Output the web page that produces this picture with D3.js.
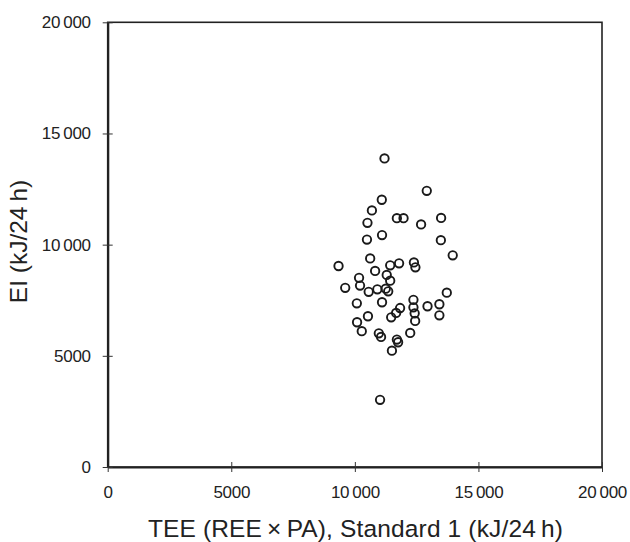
<!DOCTYPE html>
<html><head><meta charset="utf-8">
<script src="https://cdn.jsdelivr.net/npm/d3@7"></script>
<style>body{margin:0;background:#fff}svg{display:block}text{font-family:"Liberation Sans",Arial,sans-serif;fill:#222}</style>
</head><body><svg id="c" width="630" height="542"></svg>
<script>
// TEE (REE×PA), Standard 1, kJ/24 h (thousands)
const teeValues = [11.20,12.91,11.09,10.69,11.70,11.97,10.51,12.68,13.49,10.49,11.10,13.48,13.96,10.62,9.34,11.43,11.79,12.39,12.45,10.82,10.17,11.29,11.43,9.61,10.21,10.56,10.91,11.25,11.35,12.37,13.72,10.08,11.10,11.83,11.67,12.37,12.94,13.42,12.42,13.42,10.53,11.47,12.44,10.09,10.28,10.97,11.06,12.24,11.70,11.75,11.50,11.02];
// EI, kJ/24 h (thousands)
const eiValues = [13.88,12.42,12.02,11.54,11.19,11.19,10.98,10.91,11.20,10.23,10.43,10.20,9.52,9.38,9.04,9.07,9.16,9.20,8.98,8.82,8.51,8.64,8.38,8.06,8.16,7.88,7.99,8.02,7.90,7.52,7.84,7.36,7.41,7.15,6.93,7.18,7.23,7.32,6.91,6.82,6.78,6.73,6.57,6.51,6.11,6.01,5.85,6.03,5.73,5.61,5.23,3.02];
const xTicks = [0, 5000, 10000, 15000, 20000];
const yTicks = [0, 5000, 10000, 15000, 20000];
const xTitle = "TEE (REE\u2009×\u2009PA), Standard 1 (kJ/24\u2009h)";
const yTitle = "EI (kJ/24\u2009h)";

const svg = d3.select("#c");
const L = 107.7, R = 602, T = 22.3, B = 467;
const x = d3.scaleLinear().domain([0, 20000]).range([L, R]);
const y = d3.scaleLinear().domain([0, 20000]).range([B, T]);
const fmt = v => v >= 10000 ? d3.format(",")(v).replace(",", "\u2009") : String(v);

// frame
svg.append("rect").attr("x", L).attr("y", T).attr("width", R - L).attr("height", B - T)
  .attr("fill", "none").attr("stroke", "#222").attr("stroke-width", 1.6);

const xa = svg.append("g").attr("transform", `translate(0,${B})`)
  .call(d3.axisBottom(x).tickValues(xTicks).tickFormat(fmt).tickSizeInner(5).tickSizeOuter(0).tickPadding(14));
xa.select(".domain").attr("stroke", "#222").attr("stroke-width", 2.2);
xa.selectAll(".tick line").attr("stroke", "#333").attr("stroke-width", 1).attr("y1", -5);
xa.selectAll(".tick text").attr("font-size", 17).attr("letter-spacing", "-0.3px").attr("fill", "#222");

const ya = svg.append("g").attr("transform", `translate(${L},0)`)
  .call(d3.axisLeft(y).tickValues(yTicks).tickFormat(fmt).tickSizeInner(5).tickSizeOuter(0).tickPadding(12));
ya.select(".domain").attr("stroke", "#222").attr("stroke-width", 2.2);
ya.selectAll(".tick line").attr("stroke", "#333").attr("stroke-width", 1).attr("x1", 5);
ya.selectAll(".tick text").attr("font-size", 17).attr("letter-spacing", "-0.3px").attr("fill", "#222");
svg.selectAll(".tick text").style("font-family", '"Liberation Sans",Arial,sans-serif');

// points
svg.append("g").selectAll("circle").data(teeValues.map((t, i) => [t * 1000, eiValues[i] * 1000]))
  .join("circle").attr("cx", d => x(d[0])).attr("cy", d => y(d[1])).attr("r", 4.2)
  .attr("fill", "none").attr("stroke", "#1a1a1a").attr("stroke-width", 1.9);

svg.append("text").attr("x", 355.5).attr("y", 537).attr("text-anchor", "middle")
  .attr("font-size", 24.5).attr("letter-spacing", "0.15px").text(xTitle);
svg.append("text").attr("transform", `translate(27,241.5) rotate(-90)`)
  .attr("text-anchor", "middle").attr("font-size", 24.5).text(yTitle);
</script></body></html>
